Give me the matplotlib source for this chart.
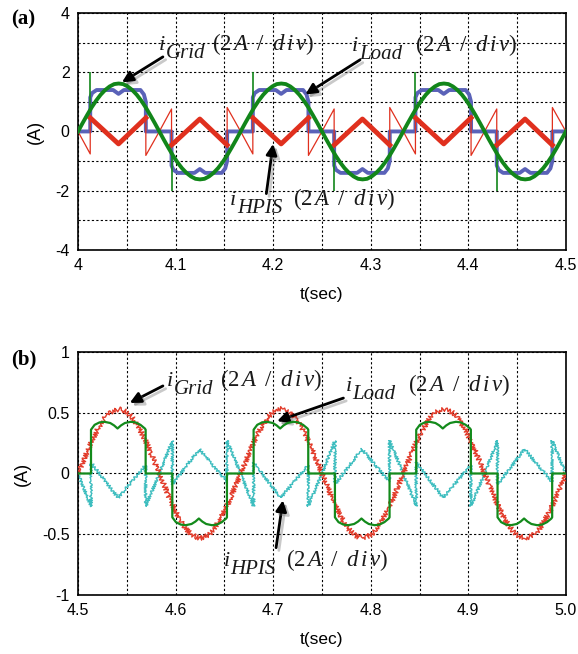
import numpy as np
import matplotlib
matplotlib.use("Agg")
import matplotlib.pyplot as plt
from matplotlib import patheffects as pe

plt.rcParams['font.family'] = ['Liberation Sans', 'DejaVu Sans']
plt.rcParams['mathtext.fontset'] = 'custom'
plt.rcParams['mathtext.rm'] = 'Liberation Serif'
plt.rcParams['mathtext.it'] = 'Liberation Serif:italic'

HALF = 1 / 12  # half cycle of the 6 Hz supply (s)
N_HALF = 6

# ---- (a) one positive half cycle, offsets from the grid zero crossing ----
a_start = 4.0
a_grid_t = np.linspace(0, HALF, 19)
a_grid_i = [0, 0.28, 0.55, 0.81, 1.04, 1.24, 1.40, 1.52, 1.60, 1.62,
            1.60, 1.52, 1.40, 1.24, 1.04, 0.81, 0.55, 0.28, 0]
a_load_t = [0, 0.0125, 0.0125, 0.0145, 0.019, 0.036, 0.0415, 0.047,
            0.064, 0.0675, 0.0695, 0.0695, HALF]
a_load_i = [0, 0, 1.15, 1.30, 1.40, 1.40, 1.27, 1.40, 1.40, 1.25, 1.0, 0, 0]
a_hpis_t = [0, 0.0125, 0.0125, 0.0415, 0.0695, 0.0695, HALF]
a_hpis_i = [0, -0.76, 0.46, -0.42, 0.46, -0.81, 0]
a_hpis_lobe_t = [0.0125, 0.0415, 0.0695]
a_hpis_lobe_i = [0.46, -0.42, 0.46]
a_spike_t = 0.0125
a_spike_lo, a_spike_hi = 0.74, 2.0

# ---- (b) ----
b_start = 4.5
b_grid_t = np.linspace(0, HALF, 19)
b_grid_i = [0, 0.09, 0.18, 0.265, 0.34, 0.405, 0.46, 0.50, 0.52, 0.53,
            0.52, 0.50, 0.46, 0.405, 0.34, 0.265, 0.18, 0.09, 0]
b_load_t = [0, 0.0133, 0.0133, 0.017, 0.022, 0.027, 0.033, 0.037, 0.0405,
            0.044, 0.048, 0.054, 0.059, 0.064, 0.0685, 0.0693, 0.0693, HALF]
b_load_i = [0, 0, 0.36, 0.40, 0.42, 0.425, 0.415, 0.395, 0.37,
            0.395, 0.415, 0.425, 0.42, 0.40, 0.37, 0.36, 0, 0]
b_hpis_t = [0, 0.0133, 0.0133, 0.041, 0.0693, 0.0693, HALF]
b_hpis_i = [0, -0.27, 0.09, -0.20, 0.07, -0.27, 0]

a_xticks = [4.0, 4.1, 4.2, 4.3, 4.4, 4.5]
a_xlabels = ['4', '4.1', '4.2', '4.3', '4.4', '4.5']
a_yticks = [-4, -2, 0, 2, 4]
b_xticks = [4.5, 4.6, 4.7, 4.8, 4.9, 5.0]
b_xlabels = ['4.5', '4.6', '4.7', '4.8', '4.9', '5.0']
b_yticks = [-1, -0.5, 0, 0.5, 1]
b_ylabels = ['-1', '-0.5', '0', '0.5', '1']


def cycles(offs, vals, start, gap=False):
    # repeat a half cycle, flipping the sign every half
    ts, vs = [], []
    for k in range(N_HALF):
        ts.append(start + k * HALF + np.asarray(offs, float))
        vs.append((-1) ** k * np.asarray(vals, float))
        if gap:
            ts.append([np.nan])
            vs.append([np.nan])
    return np.concatenate(ts), np.concatenate(vs)


def setup(ax, xlim, ylim, xticks, xlabels, yticks, ylabels, yminor):
    ax.set_xlim(xlim)
    ax.set_ylim(ylim)
    ax.set_xticks(xticks)
    ax.set_xticklabels(xlabels)
    ax.set_xticks([x + 0.05 for x in xticks[:-1]], minor=True)
    ax.set_yticks(yticks)
    ax.set_yticklabels(ylabels)
    if yminor:
        ax.set_yticks(yminor, minor=True)
    ax.grid(True, which='both', color='k', linestyle=(0, (2, 2)), lw=0.8)
    ax.tick_params(which='both', direction='in', length=0, labelsize=11.5, pad=6)
    for s in ax.spines.values():
        s.set_linewidth(1.2)
    ax.set_xlabel('t(sec)', fontsize=12.5, labelpad=10)
    ax.set_ylabel('(A)', fontsize=13, labelpad=8)


def tag(ax, x, y, sub, dx_rest):
    kw = dict(xycoords='data', textcoords='offset points', color='#1a1a1a',
              va='baseline', ha='left')
    ax.annotate('i', (x, y), xytext=(0, 0), fontsize=16,
                family='Liberation Serif', style='italic', **kw)
    ax.annotate(sub, (x, y), xytext=(5, -6), fontsize=15,
                family='Liberation Serif', style='italic', **kw)
    ax.annotate(r'$(2\,A\;\;/\;\;d\,i\,v)$', (x, y), xytext=(dx_rest, 0),
                fontsize=16.5, **kw)


def arrow(ax, tail, head):
    ann = ax.annotate('', xy=head, xytext=tail,
                      arrowprops=dict(arrowstyle='-|>', color='k', lw=2,
                                      mutation_scale=16, shrinkA=0, shrinkB=0))
    ann.arrow_patch.set_path_effects([
        pe.SimpleLineShadow(offset=(2, -2), shadow_color='0.4', alpha=0.35),
        pe.Normal()])


fig = plt.figure(figsize=(5.78, 6.54), dpi=100)
ax1 = fig.add_axes([0.135, 0.618, 0.844, 0.362])
ax2 = fig.add_axes([0.135, 0.090, 0.844, 0.372])

# (a)
t, i = cycles(a_load_t, a_load_i, a_start)
ax1.plot(t, i, color='#5a62b8', lw=2.8, solid_joinstyle='round', zorder=2)
t, i = cycles(a_hpis_t, a_hpis_i, a_start)
ax1.plot(t, i, color='#e0301e', lw=0.9, zorder=3)
t, i = cycles(a_hpis_lobe_t, a_hpis_lobe_i, a_start, gap=True)
ax1.plot(t, i, color='#e0301e', lw=3.5, zorder=3)
t, i = cycles(a_grid_t, a_grid_i, a_start)
ax1.plot(t, i, color='#12861a', lw=2.8, zorder=4)
st = [a_start + k * HALF + a_spike_t for k in range(N_HALF)]
sg = [(-1) ** k for k in range(N_HALF)]
ax1.vlines(st, [s * a_spike_lo for s in sg], [s * a_spike_hi for s in sg],
           color='#12861a', lw=1.2, zorder=4)
setup(ax1, (4.0, 4.5), (-4, 4), a_xticks, a_xlabels, a_yticks,
      [str(v) for v in a_yticks], [-3, -1, 1, 3])

# (b)
t, i = cycles(b_hpis_t, b_hpis_i, b_start)
ln, = ax2.plot(t, i, color='#3dbdbf', lw=1.0, zorder=2)
ln.set_sketch_params(1.4, 3.0, 2.0)
t, i = cycles(b_grid_t, b_grid_i, b_start)
ln, = ax2.plot(t, i, color='#e23b2a', lw=1.0, zorder=3)
ln.set_sketch_params(2.5, 3.0, 2.0)
t, i = cycles(b_load_t, b_load_i, b_start)
ax2.plot(t, i, color='#138a1b', lw=1.6, zorder=4)
setup(ax2, (4.5, 5.0), (-1, 1), b_xticks, b_xlabels, b_yticks, b_ylabels, None)

# labels and arrows
tag(ax1, 4.083, 2.76, 'Grid', 38)
arrow(ax1, (4.087, 2.52), (4.045, 1.66))
tag(ax1, 4.281, 2.72, 'Load', 45)
arrow(ax1, (4.289, 2.42), (4.233, 1.25))
tag(ax1, 4.156, -2.48, 'HPIS', 45)
arrow(ax1, (4.193, -2.1), (4.200, -0.42))

tag(ax2, 4.591, 0.72, 'Grid', 38)
arrow(ax2, (4.587, 0.72), (4.553, 0.58))
tag(ax2, 4.774, 0.68, 'Load', 45)
arrow(ax2, (4.772, 0.62), (4.704, 0.43))
tag(ax2, 4.649, -0.757, 'HPIS', 45)
arrow(ax2, (4.703, -0.61), (4.710, -0.22))

fig.text(0.02, 0.962, '(a)', fontsize=15, fontweight='bold', family='Liberation Serif')
fig.text(0.02, 0.442, '(b)', fontsize=15, fontweight='bold', family='Liberation Serif')

fig.savefig('out.png', dpi=100)
